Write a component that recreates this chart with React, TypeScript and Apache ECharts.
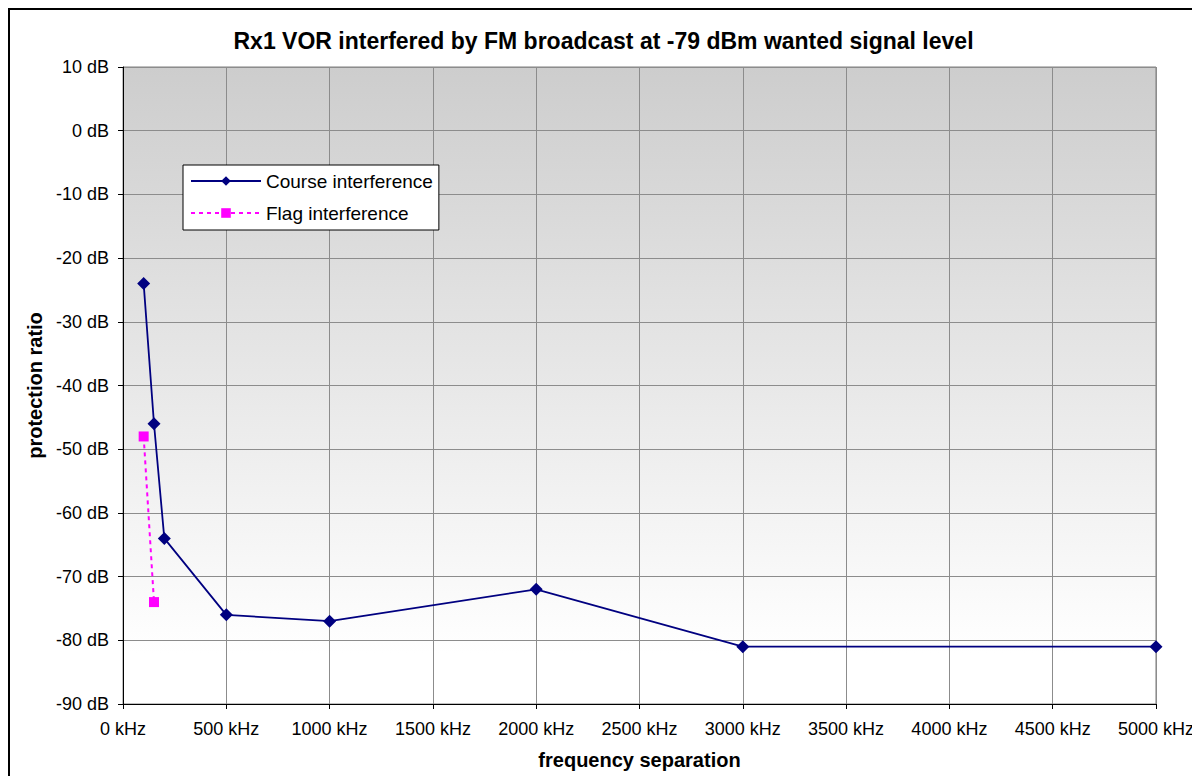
import React, { useEffect, useRef } from "react";
import * as echarts from "echarts";

const titleText = "Rx1 VOR interfered by FM broadcast at -79 dBm wanted signal level";
const xAxisName = "frequency separation";
const yAxisName = "protection ratio";

const courseName = "Course interference";
const courseFreq = [100, 150, 200, 500, 1000, 2000, 3000, 5000];
const courseRatio = [-24, -46, -64, -76, -77, -72, -81, -81];

const flagName = "Flag interference";
const flagFreq = [100, 150];
const flagRatio = [-48, -74];

const FONT = "'Liberation Sans', Arial, sans-serif";

export default function App() {
  const ref = useRef<HTMLDivElement>(null);
  useEffect(() => {
    document.body.style.overflow = "hidden";
    if (!ref.current) return;
    const chart = echarts.init(ref.current, undefined, { renderer: "svg" });
    chart.setOption({
      animation: false,
      title: {
        text: titleText,
        left: "center",
        top: 19,
        padding: 0,
        textStyle: { fontFamily: FONT, fontSize: 23, fontWeight: "bold", color: "#000" },
      },
      legend: {
        orient: "vertical",
        left: 173,
        top: 155,
        padding: [5, 6, 6, 7],
        itemWidth: 70,
        itemHeight: 12,
        itemGap: 10,
        backgroundColor: "#ffffff",
        borderColor: "#000000",
        borderWidth: 1,
        borderRadius: 0,
        textStyle: { fontFamily: FONT, fontSize: 19, color: "#000", lineHeight: 22 },
        data: [courseName, flagName],
      },
      grid: {
        left: 113,
        right: 39,
        top: 57,
        bottom: 72,
        show: true,
        borderColor: "#808080",
        borderWidth: 1,
        backgroundColor: new echarts.graphic.LinearGradient(0, 0, 0, 1, [
          { offset: 0, color: "#cdcdcd" },
          { offset: 0.92, color: "#ffffff" },
          { offset: 1, color: "#ffffff" },
        ]),
      },
      xAxis: {
        type: "value",
        min: 0,
        max: 5000,
        interval: 500,
        name: xAxisName,
        nameLocation: "middle",
        nameGap: 46,
        nameTextStyle: { fontFamily: FONT, fontSize: 20, fontWeight: "bold", color: "#000" },
        axisLine: { show: true, onZero: false, lineStyle: { color: "#000", width: 1 } },
        axisTick: { show: true, length: 5, lineStyle: { color: "#000" } },
        axisLabel: {
          margin: 16,
          fontFamily: FONT,
          fontSize: 18,
          color: "#000",
          formatter: (v: number) => `${v} kHz`,
        },
        splitLine: { show: true, lineStyle: { color: "#8c8c8c", width: 1 } },
      },
      yAxis: {
        type: "value",
        min: -90,
        max: 10,
        interval: 10,
        name: yAxisName,
        nameLocation: "middle",
        nameGap: 78,
        nameRotate: 90,
        nameTextStyle: { fontFamily: FONT, fontSize: 20, fontWeight: "bold", color: "#000" },
        axisLine: { show: true, onZero: false, lineStyle: { color: "#000", width: 1 } },
        axisTick: { show: true, length: 5, lineStyle: { color: "#000" } },
        axisLabel: {
          margin: 14,
          fontFamily: FONT,
          fontSize: 18,
          color: "#000",
          formatter: (v: number) => `${v} dB`,
        },
        splitLine: { show: true, lineStyle: { color: "#8c8c8c", width: 1 } },
      },
      series: [
        {
          name: courseName,
          type: "line",
          data: courseFreq.map((f, i) => [f, courseRatio[i]]),
          symbol: "diamond",
          symbolSize: 13,
          lineStyle: { color: "#000080", width: 1.8 },
          itemStyle: { color: "#000080" },
          z: 3,
        },
        {
          name: flagName,
          type: "line",
          data: flagFreq.map((f, i) => [f, flagRatio[i]]),
          symbol: "rect",
          symbolSize: 10,
          lineStyle: { color: "#ff00ff", width: 2, type: [4, 4] },
          itemStyle: { color: "#ff00ff" },
          z: 2,
        },
      ],
    });
    return () => chart.dispose();
  }, []);

  return (
    <div
      style={{
        width: 1191,
        height: 768,
        boxSizing: "border-box",
        border: "2px solid #000",
        borderBottom: "none",
        background: "#fff",
      }}
    >
      <div ref={ref} style={{ width: 1187, height: 766 }} />
    </div>
  );
}
